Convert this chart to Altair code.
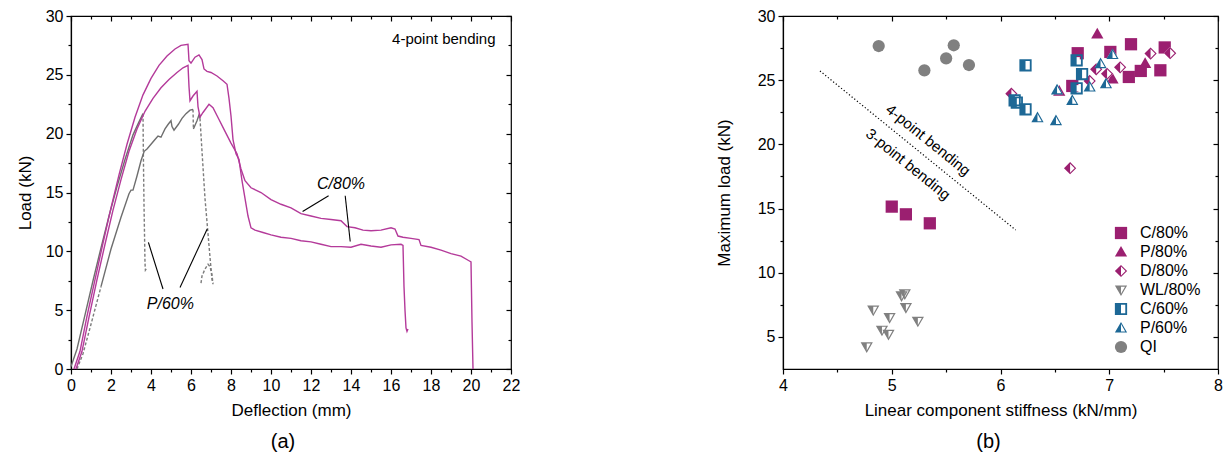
import altair as alt
import pandas as pd

FONT = "Liberation Sans"
MAG_LINE = "#B43A9A"
GRAY_LINE = "#6E6E6E"
GRAY_DASH = "#7C7C7C"
MAG = "#9B1F70"
BLUE = "#1D6896"
GRAY = "#808080"

# ---------------- Panel (a): load-deflection curves ----------------
c80_1_x = [0.15, 0.45, 0.8, 1.2, 1.6, 2.0, 2.4, 2.8, 3.2, 3.6, 4.0, 4.4, 4.8, 5.2, 5.5, 5.85, 5.9, 6.0, 6.2,
           6.4, 6.55, 6.65, 6.8, 7.0, 7.3, 7.6, 7.8, 7.9, 8.0, 8.1, 8.25, 8.4, 8.55, 8.7, 8.85, 9.0, 9.2, 9.6,
           10.0, 10.5, 11.0, 11.5, 12.0, 12.5, 13.0, 13.5, 14.0, 14.5, 15.0, 15.5, 16.0, 16.5, 16.6, 16.65,
           16.7, 16.75, 16.8, 16.85]
c80_1_y = [0.0, 1.5, 4.5, 7.6, 10.7, 13.7, 16.5, 19.1, 21.4, 23.3, 24.7, 25.8, 26.6, 27.2, 27.5, 27.6, 26.2,
           26.0, 26.5, 26.7, 26.3, 25.5, 25.3, 25.2, 24.9, 24.5, 24.2, 23.0, 21.5, 19.5, 18.3, 17.8, 16.0, 14.5,
           13.0, 12.0, 11.8, 11.6, 11.4, 11.2, 11.1, 10.9, 10.8, 10.6, 10.4, 10.4, 10.35, 10.6, 10.45, 10.35,
           10.55, 10.6, 10.5, 7.0, 5.0, 3.5, 3.2, 3.4]
c80_2_x = [0.25, 0.55, 0.9, 1.3, 1.7, 2.1, 2.5, 2.9, 3.3, 3.7, 4.1, 4.5, 4.9, 5.3, 5.6, 5.85, 5.9, 5.95, 6.1,
           6.3, 6.35, 6.45, 6.6, 6.9, 7.1, 7.4, 7.7, 8.0, 8.3, 8.5, 8.7, 9.0, 9.5, 10.0, 10.5, 11.0, 11.5, 12.0,
           12.5, 13.0, 13.5, 13.8, 14.2, 14.6, 15.0, 15.5, 16.0, 16.2, 16.35, 16.6, 17.0, 17.4, 17.5, 18.0,
           18.5, 19.0, 19.5, 19.9, 20.0, 20.05, 20.1]
c80_2_y = [0.0, 1.5, 4.4, 7.6, 10.6, 13.5, 16.1, 18.5, 20.4, 21.9, 23.0, 23.9, 24.6, 25.2, 25.6, 25.8, 24.0,
           22.8, 23.2, 23.6, 22.3, 21.4, 21.8, 22.5, 22.2, 21.2, 20.2, 19.2, 18.3, 17.0, 16.0, 15.4, 15.0, 14.4,
           14.0, 13.7, 13.2, 13.0, 12.8, 12.7, 12.6, 12.1, 12.0, 11.8, 11.75, 11.8, 12.0, 11.9, 11.3, 11.2,
           11.1, 11.0, 10.5, 10.35, 10.1, 9.8, 9.6, 9.2, 9.1, 4.0, 0.0]
p60_1_x = [0.0, 0.3, 0.7, 1.1, 1.5, 1.9, 2.3, 2.7, 3.1, 3.4, 3.6]
p60_1_y = [0.2, 1.7, 4.6, 7.5, 10.3, 13.0, 15.5, 17.8, 19.9, 21.0, 21.7]
p60_1_drop_x = [3.6, 3.62, 3.65, 3.68, 3.7, 3.72, 3.8]
p60_1_drop_y = [21.7, 18.0, 14.0, 11.0, 9.0, 8.4, 8.6]
p60_2_start_x = [0.3, 0.6, 1.0, 1.5]
p60_2_start_y = [0.0, 1.3, 3.8, 7.0]
p60_2_x = [1.5, 2.0, 2.5, 2.9, 3.0, 3.1, 3.3, 3.5, 3.66, 3.8, 4.0, 4.2, 4.35, 4.5, 4.7, 4.86, 5.0, 5.05, 5.15,
           5.37, 5.55, 5.75, 5.95, 6.1]
p60_2_y = [7.0, 10.2, 12.9, 14.9, 15.2, 15.2, 16.4, 17.7, 18.5, 18.7, 19.1, 19.5, 19.8, 19.7, 20.4, 20.8, 21.1,
           20.6, 20.3, 20.8, 21.3, 21.7, 22.0, 22.05]
p60_2_drop1_x = [6.1, 6.12]
p60_2_drop1_y = [22.05, 20.4]
p60_2_mid_x = [6.12, 6.3, 6.42, 6.45]
p60_2_mid_y = [20.4, 21.1, 21.7, 21.3]
p60_2_drop2_x = [6.45, 6.55, 6.7, 6.85, 6.95, 7.05, 7.1]
p60_2_drop2_y = [21.3, 18.5, 14.5, 11.5, 9.5, 7.6, 7.3]
p60_2_arc_x = [6.5, 6.55, 6.7, 6.85, 6.95, 7.05, 7.1]
p60_2_arc_y = [7.3, 7.9, 8.5, 8.9, 8.7, 8.0, 7.2]

segments = [
    ("c80_1", "mag", c80_1_x, c80_1_y),
    ("c80_2", "mag", c80_2_x, c80_2_y),
    ("p60_1", "gray", p60_1_x, p60_1_y),
    ("p60_1_drop", "dash", p60_1_drop_x, p60_1_drop_y),
    ("p60_2_start", "dash", p60_2_start_x, p60_2_start_y),
    ("p60_2", "gray", p60_2_x, p60_2_y),
    ("p60_2_drop1", "dash", p60_2_drop1_x, p60_2_drop1_y),
    ("p60_2_mid", "gray", p60_2_mid_x, p60_2_mid_y),
    ("p60_2_drop2", "dash", p60_2_drop2_x, p60_2_drop2_y),
    ("p60_2_arc", "dash", p60_2_arc_x, p60_2_arc_y),
]
rows = []
for name, style, xs, ys in segments:
    for i, (xv, yv) in enumerate(zip(xs, ys)):
        rows.append({"seg": name, "style": style, "i": i, "x": xv, "y": yv})
curves = pd.DataFrame(rows)

# leader lines of panel (a)
lead_x = [12.88, 13.71, 3.87, 5.45]
lead_y = [14.72, 14.72, 10.76, 6.93]
lead_x2 = [11.58, 13.96, 4.60, 6.81]
lead_y2 = [13.39, 10.84, 6.80, 11.89]
leaders = pd.DataFrame({"x": lead_x, "y": lead_y, "x2": lead_x2, "y2": lead_y2})

lab_text = ["C/80%", "P/60%"]
lab_x = [13.5, 4.97]
lab_y = [15.72, 5.52]
labels_a = pd.DataFrame({"t": lab_text, "x": lab_x, "y": lab_y})
corner_text = ["4-point bending"]
corner_x = [18.64]
corner_y = [28.04]
corner_a = pd.DataFrame({"t": corner_text, "x": corner_x, "y": corner_y})

# ---------------- Panel (b): maximum load vs stiffness ----------------
groups = ["C/80%", "P/80%", "D/80%", "WL/80%", "C/60%", "P/60%", "QI"]
c80_sx = [6.71, 7.01, 7.20, 7.51, 6.66, 7.18, 7.29, 7.47, 5.00, 5.13, 5.35]
c80_sy = [27.10, 27.20, 27.80, 27.55, 24.55, 25.25, 25.72, 25.77, 15.15, 14.55, 13.85]
p80_sx = [6.89, 6.54, 7.03, 7.33]
p80_sy = [28.60, 24.15, 25.10, 26.30]
d80_sx = [6.10, 6.64, 6.82, 6.88, 6.98, 7.10, 7.38, 7.56]
d80_sy = [23.95, 18.14, 24.94, 25.85, 25.50, 26.00, 27.07, 27.10]
wl80_sx = [5.09, 5.12, 5.13, 4.83, 4.98, 5.24, 4.91, 4.97, 4.77]
wl80_sy = [8.20, 8.35, 7.28, 7.08, 6.50, 6.22, 5.52, 5.20, 4.22]
c60_sx = [6.23, 6.70, 6.75, 6.70, 6.13, 6.15, 6.23]
c60_sy = [26.16, 26.55, 25.48, 24.37, 23.43, 23.25, 22.73]
p60_sx = [6.52, 6.66, 6.34, 6.51, 6.82, 6.92, 6.97, 7.03]
p60_sy = [24.25, 23.43, 22.08, 21.85, 24.47, 26.29, 24.73, 27.00]
qi_sx = [4.88, 5.30, 5.50, 5.57, 5.71]
qi_sy = [27.66, 25.77, 26.70, 27.72, 26.18]
series_b = [c80_sx, p80_sx, d80_sx, wl80_sx, c60_sx, p60_sx, qi_sx]
series_by = [c80_sy, p80_sy, d80_sy, wl80_sy, c60_sy, p60_sy, qi_sy]
prow = []
for g, xs, ys in zip(groups, series_b, series_by):
    for xv, yv in zip(xs, ys):
        prow.append({"group": g, "x": xv, "y": yv})
pts = pd.DataFrame(prow)

div_x = [4.34, 6.14]
div_y = [25.72, 13.33]
divider = pd.DataFrame({"x": div_x, "y": div_y})
bend_text = ["4-point bending", "3-point bending"]
bend_x = [5.335, 5.151]
bend_y = [20.34, 18.45]
bend = pd.DataFrame({"t": bend_text, "x": bend_x, "y": bend_y})

# ---------------- marker shapes ----------------
SQ = "M-1,-1L1,-1L1,1L-1,1Z"
TRI_UP = "M0,-1L1,0.75L-1,0.75Z"
TRI_DN = "M-1,-0.75L1,-0.75L0,1Z"
DIA = "M0,-1L1,0L0,1L-1,0Z"
SQ_HALF = SQ + "M0,-0.7L0,0.7L0.7,0.7L0.7,-0.7Z"
TRI_UP_HALF = TRI_UP + "M0,-0.64L0,0.57L0.69,0.57Z"
TRI_DN_HALF = TRI_DN + "M0,-0.55L0,0.6L0.65,-0.55Z"
DIA_HALF = DIA + "M0,-0.74L0,0.74L0.74,0Z"

g_color = [MAG, MAG, MAG, GRAY, BLUE, BLUE, GRAY]
g_shape = [SQ, TRI_UP, DIA_HALF, TRI_DN_HALF, SQ_HALF, TRI_UP_HALF, "circle"]
g_bg = [None, None, DIA, TRI_DN, SQ, TRI_UP, None]
g_size = [150, 150, 150, 125, 40, 135, 85]


def axis_layers(df, xdom, ydom, xmaj, xmin, ymaj, ymin, xtitle, ytitle, ytpad):
    xs = alt.Scale(domain=xdom, nice=False, zero=False)
    ys = alt.Scale(domain=ydom, nice=False, zero=False)
    common = dict(labelFlush=False, labelOverlap=False, grid=False)
    specs = [
        (alt.Axis(orient="bottom", values=xmaj, tickSize=5, title=xtitle, titlePadding=9, **common),
         alt.Axis(orient="left", values=ymaj, tickSize=5, title=ytitle, titlePadding=ytpad, **common)),
        (alt.Axis(orient="bottom", values=xmin, tickSize=3, labels=False, domain=False, title=None, **common),
         alt.Axis(orient="left", values=ymin, tickSize=3, labels=False, domain=False, title=None, **common)),
        (alt.Axis(orient="top", values=xmaj, tickSize=5, offset=-5, labels=False, domain=False, title=None, **common),
         alt.Axis(orient="right", values=ymaj, tickSize=5, offset=-5, labels=False, domain=False, title=None, **common)),
        (alt.Axis(orient="top", values=xmin, tickSize=3, offset=-3, labels=False, domain=False, title=None, **common),
         alt.Axis(orient="right", values=ymin, tickSize=3, offset=-3, labels=False, domain=False, title=None, **common)),
    ]
    out = []
    for ax, ay in specs:
        out.append(alt.Chart(df).mark_point(opacity=0).encode(
            x=alt.X("x:Q", scale=xs, axis=ax),
            y=alt.Y("y:Q", scale=ys, axis=ay)))
    return out, xs, ys


# ---- build panel (a)
ax_a, xs_a, ys_a = axis_layers(curves, [0, 22], [0, 30],
                               list(range(0, 23, 2)), list(range(1, 22, 2)),
                               list(range(0, 31, 5)), [2.5, 7.5, 12.5, 17.5, 22.5, 27.5],
                               "Deflection (mm)", "Load (kN)", 11)
XA = alt.X("x:Q", scale=xs_a, axis=None)
YA = alt.Y("y:Q", scale=ys_a, axis=None)

dash_l = alt.Chart(curves).transform_filter(alt.datum.style == "dash").mark_line(
    color=GRAY_DASH, strokeWidth=1.4, strokeDash=[3, 2]).encode(x=XA, y=YA, detail="seg:N", order="i:Q")
gray_l = alt.Chart(curves).transform_filter(alt.datum.style == "gray").mark_line(
    color=GRAY_LINE, strokeWidth=1.4).encode(x=XA, y=YA, detail="seg:N", order="i:Q")
mag_l = alt.Chart(curves).transform_filter(alt.datum.style == "mag").mark_line(
    color=MAG_LINE, strokeWidth=1.4).encode(x=XA, y=YA, detail="seg:N", order="i:Q")
lead_l = alt.Chart(leaders).mark_rule(color="black", strokeWidth=1.1).encode(
    x=XA, y=YA, x2="x2:Q", y2="y2:Q")
lab_l = alt.Chart(labels_a).mark_text(font=FONT, fontSize=16, fontStyle="italic", color="black").encode(
    x=XA, y=YA, text="t:N")
corner_l = alt.Chart(corner_a).mark_text(font=FONT, fontSize=15, color="black").encode(
    x=XA, y=YA, text="t:N")

panel_a = alt.layer(*ax_a, dash_l, gray_l, mag_l, lead_l, lab_l, corner_l).resolve_axis(
    x="independent", y="independent").properties(
    width=440, height=353,
    title=alt.TitleParams("(a)", orient="bottom", anchor="middle", frame="group", fontSize=20,
                          font=FONT, fontWeight="normal", offset=14, dx=-8))

# ---- build panel (b)
ax_b, xs_b, ys_b = axis_layers(pts, [4, 8], [2.5, 30],
                               [4, 5, 6, 7, 8], [4.5, 5.5, 6.5, 7.5],
                               [5, 10, 15, 20, 25, 30], [7.5, 12.5, 17.5, 22.5, 27.5],
                               "Linear component stiffness (kN/mm)", "Maximum load (kN)", 24)
XB = alt.X("x:Q", scale=xs_b, axis=None)
YB = alt.Y("y:Q", scale=ys_b, axis=None)

# legend coordinates are measured from the first panel's plot origin
legend_b = alt.Legend(title=None, orient="none", legendX=1042, legendY=209, labelFont=FONT,
                      labelFontSize=16, labelColor="black", symbolStrokeWidth=0, rowPadding=3,
                      labelOffset=11, symbolOpacity=1)
col_enc = alt.Color("group:N", scale=alt.Scale(domain=groups, range=g_color), legend=legend_b)
shp_enc = alt.Shape("group:N", scale=alt.Scale(domain=groups, range=g_shape), legend=legend_b)
siz_enc = alt.Size("group:N", scale=alt.Scale(domain=groups, range=g_size), legend=legend_b)

mark_layers = []
for g, bgshape, sz in zip(groups, g_bg, g_size):
    sub = alt.Chart(pts).transform_filter(alt.datum.group == g)
    if bgshape is not None:
        mark_layers.append(sub.mark_point(filled=True, fill="white", strokeWidth=0, opacity=1).encode(
            x=XB, y=YB, shape=alt.value(bgshape), size=alt.value(sz)))
    mark_layers.append(sub.mark_point(filled=True, strokeWidth=0, opacity=1).encode(
        x=XB, y=YB, color=col_enc, shape=shp_enc, size=siz_enc))

div_l = alt.Chart(divider).mark_line(color="black", strokeWidth=1.2, strokeDash=[1.2, 2.2]).encode(x=XB, y=YB)
bend_l = alt.Chart(bend).mark_text(font=FONT, fontSize=15, color="black", angle=39).encode(
    x=XB, y=YB, text="t:N")

panel_b = alt.layer(*ax_b, div_l, bend_l, *mark_layers).resolve_axis(
    x="independent", y="independent").properties(
    width=435, height=353,
    title=alt.TitleParams("(b)", orient="bottom", anchor="middle", frame="group", fontSize=20,
                          font=FONT, fontWeight="normal", offset=14, dx=-12))

chart = alt.hconcat(panel_a, panel_b, spacing=193).properties(
    padding={"left": 15, "top": 7, "right": 0, "bottom": 0},
    background="white"
).configure_view(stroke="black", strokeWidth=1.2).configure_axis(
    labelFont=FONT, labelFontSize=16, labelColor="black", titleFont=FONT, titleFontSize=17,
    titleFontWeight="normal", titleColor="black", domainColor="black", domainWidth=1.2,
    tickColor="black", tickWidth=1.2, labelPadding=3, grid=False
)

chart.save("out.html", embed_options={"renderer": "svg", "actions": False})
